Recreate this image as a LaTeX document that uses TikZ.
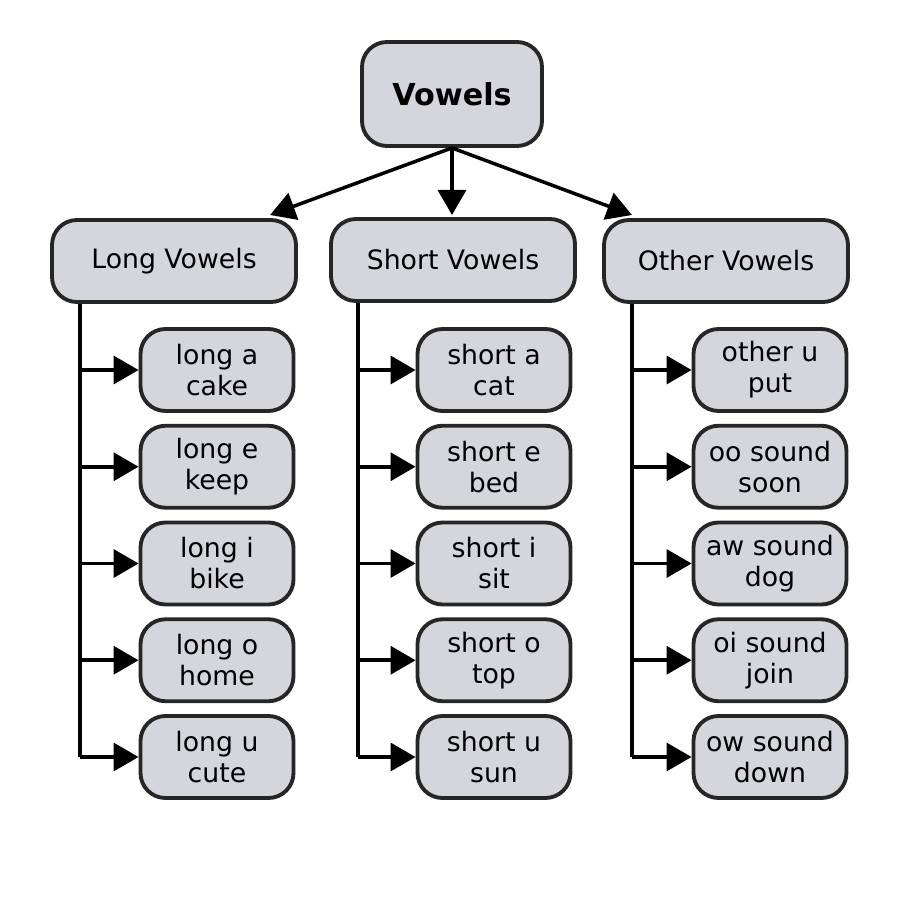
\documentclass[tikz,border=0pt]{standalone}
\usepackage{fontspec}
\setmainfont{DejaVu Sans}
\usetikzlibrary{positioning, arrows.meta}
\definecolor{boxgrey}{HTML}{D4D6DC}
\tikzset{kasten/.style={rectangle,draw=black!85,line width=1.1pt,fill=boxgrey,rounded corners=0.25cm,align=center,font=\fontsize{7.6}{8.8}\selectfont},
	wurzel/.style={kasten,minimum width=1.8cm,minimum height=1.04cm,font=\fontsize{8.6}{10}\selectfont\bfseries},
	gruppe/.style={kasten,minimum width=2.44cm,minimum height=0.82cm},
	blatt/.style={kasten,minimum width=1.53cm,minimum height=0.82cm,inner sep=0},
	pfeil/.style={line width=1pt,-{Triangle[length=0.25cm,width=0.28cm]}} }
\begin{document}
\begin{tikzpicture}
  \useasboundingbox[fill=white] (0,0) rectangle (9,8.97);
  \node (v) [wurzel] at (4.52,8.03) {Vowels};
  \node (lv) [gruppe] at (1.74,6.36) {Long Vowels};
  \node (sv) [gruppe] at (4.53,6.37) {Short Vowels};
  \node (ov) [gruppe] at (7.26,6.36) {Other Vowels};
  \coordinate (t1) at (2.70,6.82);
  \coordinate (t2) at (4.52,6.82);
  \coordinate (t3) at (6.32,6.82);
  \foreach \t in {t1,t2,t3}
    \draw[pfeil] (v.south) -- (\t);
  % leaves: column x, parent, line x, texts
  \foreach \col/\eltern/\lx/\labs in {
      2.17/lv/0.80/{long a\\cake,long e\\keep,long i\\bike,long o\\home,long u\\cute},
      4.94/sv/3.58/{short a\\cat,short e\\bed,short i\\sit,short o\\top,short u\\sun},
      7.70/ov/6.32/{other u\\put,oo sound\\soon,aw sound\\dog,oi sound\\join,ow sound\\down}} {
    \coordinate (\eltern-x) at (\lx,0);
    \foreach \lab [count=\i] in \labs {
      \pgfmathsetmacro{\yy}{5.27-0.9675*(\i-1)}
      \node (\eltern-\i) [blatt] at (\col,\yy) {\lab};
      \coordinate (\eltern-h\i) at (\lx,\yy);
      \draw[pfeil] (\eltern-h\i) -- (\eltern-\i.west);
    }
    \draw[line width=1pt] (\eltern-x |- \eltern.south) -- (\eltern-h5);
  }
\end{tikzpicture}
\end{document}
